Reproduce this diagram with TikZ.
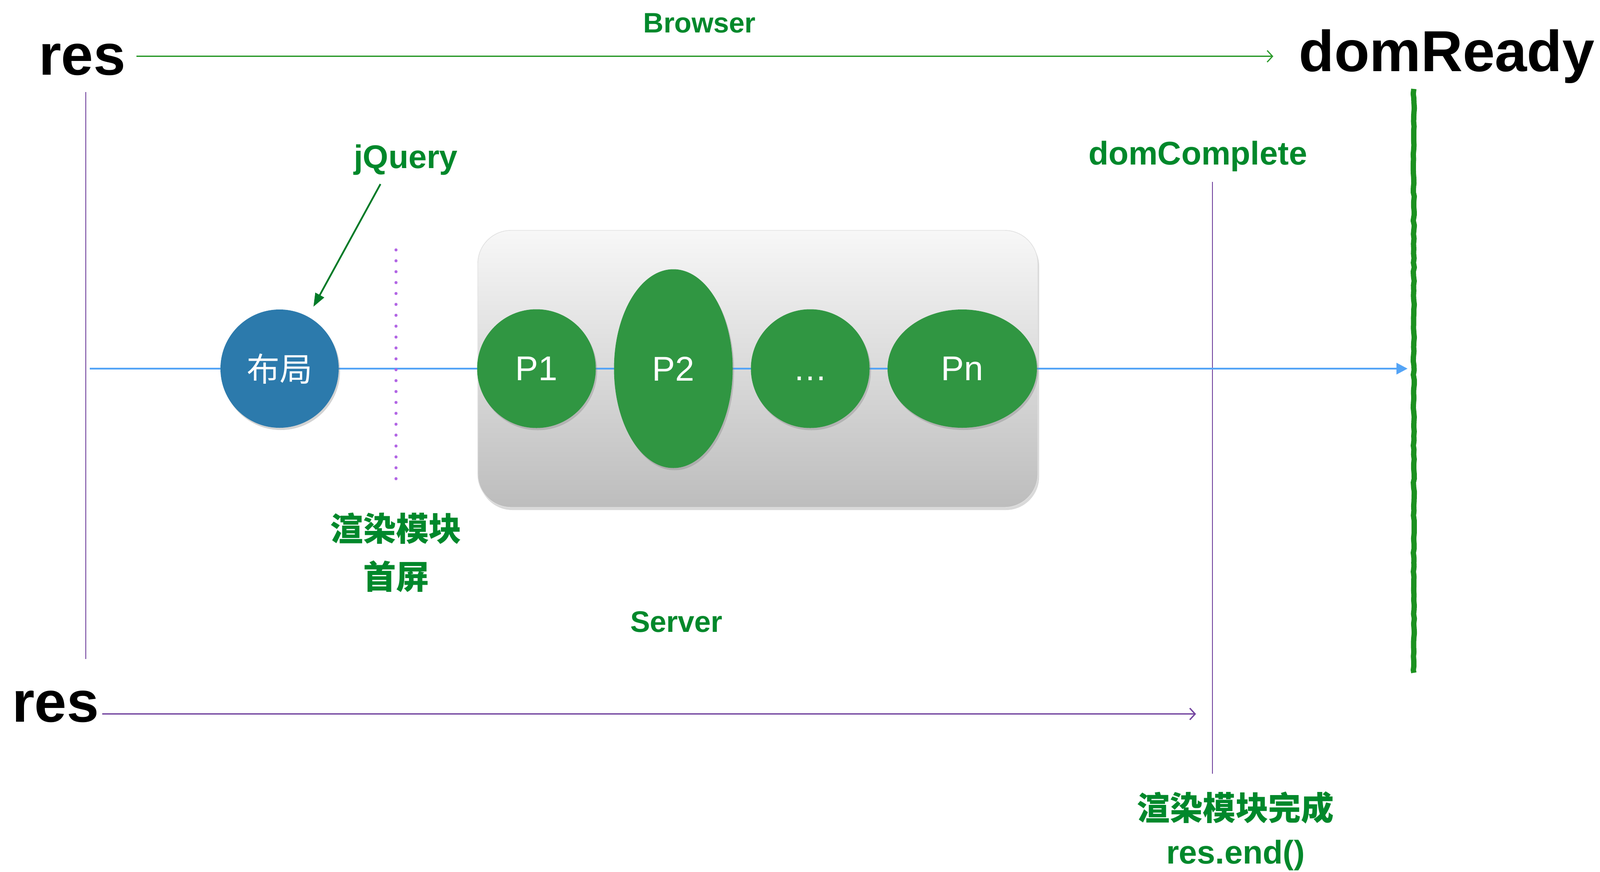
\documentclass[tikz,border=0pt]{standalone}
\usepackage{fontspec}
\setmainfont{Liberation Sans}
\newfontfamily\cjk{Noto Sans CJK SC}
\usepackage{tikz}
\usetikzlibrary{arrows.meta, positioning, shapes.geometric, shadows, decorations.pathmorphing}

\definecolor{labelgreen}{RGB}{0,136,43}
\definecolor{pgreen}{RGB}{48,150,66}
\definecolor{layoutblue}{RGB}{44,122,172}
\definecolor{flowblue}{RGB}{84,164,246}
\definecolor{resviolet}{RGB}{116,70,160}
\definecolor{dotviolet}{RGB}{178,102,228}
\definecolor{arrowgreen}{RGB}{44,154,44}
\definecolor{readygreen}{RGB}{28,145,32}

\begin{document}
\begin{tikzpicture}[
    bigtext/.style={font=\fontsize{37}{40}\selectfont\bfseries, inner sep=0pt, anchor=base},
    greentext/.style={font=\fontsize{21}{28}\selectfont\bfseries, text=labelgreen, inner sep=0pt, align=center},
    blob/.style={ellipse, fill=pgreen, text=white, inner sep=0pt, font=\fontsize{22}{24}\selectfont,
        drop shadow={shadow xshift=0.03cm, shadow yshift=-0.05cm, opacity=0.35}},
    serverbox/.style={rounded corners=0.75cm, top color=black!3, bottom color=black!26, draw=black!12,
        drop shadow={shadow xshift=0.03cm, shadow yshift=-0.06cm, opacity=0.3}},
    timeline/.style={resviolet, line width=0.7pt},
    resarrow/.style={resviolet, line width=0.85pt, -{Straight Barb[length=1.2mm,width=2.6mm]}},
    browserarrow/.style={arrowgreen, line width=0.75pt, -{Straight Barb[length=1.2mm,width=2.6mm]}},
    flowarrow/.style={flowblue, line width=1.4pt, -{Triangle[length=0.25cm,width=0.25cm]}},
    jqarrow/.style={labelgreen!90!black, line width=1.1pt, -{Triangle[length=0.3cm,width=0.22cm]}},
    cutline/.style={dotviolet, line width=0.07cm, line cap=round, dash pattern=on 0pt off 0.245cm},
    readyline/.style={readygreen, line width=0.12cm, decorate, decoration={random steps, segment length=3pt, amplitude=0.35pt}}
]
\useasboundingbox (0,0) rectangle (36,-19.6);

\coordinate (flowstart) at (2.02,-8.29);
\coordinate (readytop) at (31.81,-2.0);
\coordinate (readybot) at (31.81,-15.13);
\coordinate (lefttop) at (1.93,-2.07);
\coordinate (leftbot) at (1.93,-14.82);
\coordinate (donetop) at (27.28,-4.09);
\coordinate (donebot) at (27.28,-17.40);
\coordinate (cuttop) at (8.91,-5.62);
\coordinate (cutbot) at (8.91,-10.92);

\node[serverbox, minimum width=12.6cm, minimum height=6.23cm] (server) at (17.05,-8.295) {};

\node[bigtext] (restop) at (1.85,-1.68) {res};
\node[bigtext] (domready) at (32.55,-1.60) {domReady};
\node[greentext, font=\fontsize{18}{20}\selectfont\bfseries, anchor=base] (browser) at (15.74,-0.73) {Browser};
\node[greentext, anchor=base] (jquery) at (9.13,-3.78) {jQuery};
\node[greentext, anchor=base] (domcomplete) at (26.95,-3.70) {domComplete};
\node[greentext, font=\cjk\fontsize{21}{30.7}\selectfont\bfseries] (cutlabel) at (8.91,-12.43) {渲染模块\\首屏};
\node[greentext, font=\fontsize{19}{20}\selectfont\bfseries] (serverlabel) at (15.22,-13.98) {Server};
\node[bigtext] (resbottom) at (1.25,-16.23) {res};
\node[greentext] (donelabel) at (27.8,-18.69) {{\cjk 渲染模块完成}\\res.end()};

\draw[timeline] (lefttop) -- (leftbot);
\draw[timeline] (donetop) -- (donebot);
\draw[readyline] (readytop) -- (readybot);
\draw[browserarrow, shorten <=0.24cm, shorten >=0.57cm] ([yshift=0.07cm]restop.east) -- ([yshift=0.07cm]restop.east -| domready.west);
\draw[resarrow, shorten <=0.07cm, shorten >=0.37cm] ([yshift=-0.17cm]resbottom.east) -- ([yshift=-0.17cm]resbottom.east -| donetop);
\draw[flowarrow, shorten >=0.14cm] (flowstart) -- (flowstart -| readytop);
\draw[cutline] (cuttop) -- (cutbot);

\node[blob, fill=layoutblue, minimum width=2.66cm, minimum height=2.66cm, font=\cjk\fontsize{21}{24}\selectfont] (layout) at (6.29,-8.29) {布局};
\node[blob, minimum width=2.67cm, minimum height=2.67cm] (p1) at (12.07,-8.29) {P1};
\node[blob, minimum width=2.67cm, minimum height=4.47cm] (p2) at (15.15,-8.29) {P2};
\node[blob, minimum width=2.67cm, minimum height=2.67cm] (pdots) at (18.23,-8.29) {\vphantom{P}\dots};
\node[blob, minimum width=3.36cm, minimum height=2.66cm] (pn) at (21.65,-8.29) {Pn};

\draw[jqarrow, shorten >=0.25cm] ([xshift=-0.57cm,yshift=-0.2cm]jquery.south) -- (layout);
\end{tikzpicture}
\end{document}
